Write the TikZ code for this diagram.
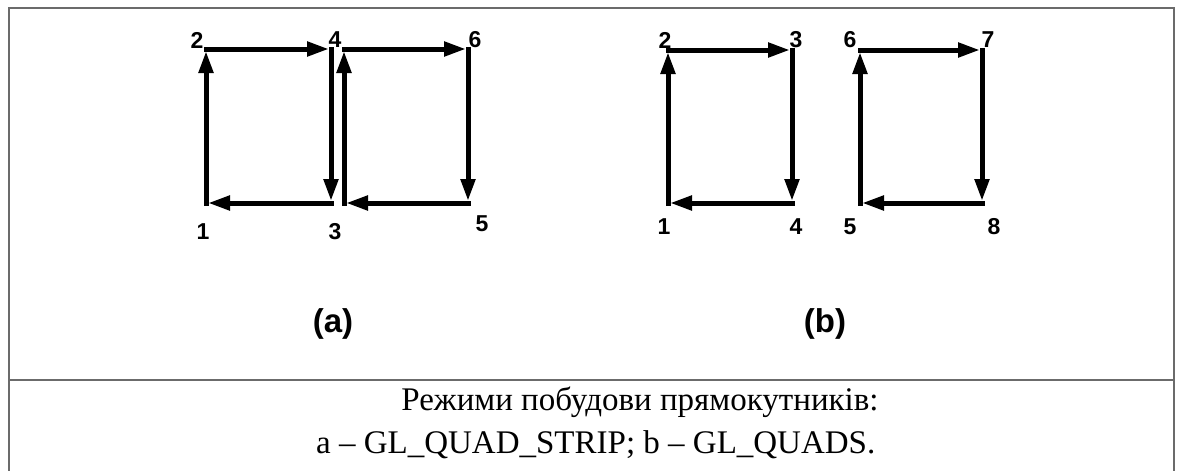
\documentclass[tikz,border=0pt]{standalone}
\usepackage{fontspec}
\setmainfont{Liberation Serif}
\newfontfamily\labelfont{Liberation Sans}
\usetikzlibrary{arrows.meta}
\definecolor{framegray}{HTML}{6B6B6B}
\begin{document}
\begin{tikzpicture}[x=1pt,y=-1pt,
  edge/.style={line width=5pt, -{Triangle[length=22pt,width=14pt]},
               shorten >=2pt, line cap=rect},
  vlabel/.style={font=\labelfont\bfseries\fontsize{23}{23}\selectfont, inner sep=0pt},
  sublabel/.style={font=\labelfont\bfseries\fontsize{33}{33}\selectfont, inner sep=0pt},
  captext/.style={font=\fontsize{33}{33}\selectfont, inner sep=0pt},
  frame/.style={draw=framegray, line width=2pt}]
\useasboundingbox (0,0) rectangle (1179,471);

% table frame
\draw[frame] (8.5,471) -- (8.5,7.5) -- (1173.5,7.5) -- (1173.5,471);
\draw[frame] (8.5,380) -- (1173.5,380);

% (a) quad strip vertices
\coordinate (a1) at (206,203);
\coordinate (a2) at (206,49);
\coordinate (a4) at (331,49);
\coordinate (a3) at (331,203);
\coordinate (a3r) at (344,203);
\coordinate (a4r) at (344,49);
\coordinate (a6) at (468,49);
\coordinate (a5) at (468,203);

\draw[edge] (a1) -- (a2);
\draw[edge] (a2) -- (a4);
\draw[edge] (a4) -- (a3);
\draw[edge] (a3) -- (a1);
\draw[edge] (a3r) -- (a4r);
\draw[edge] (a4r) -- (a6);
\draw[edge] (a6) -- (a5);
\draw[edge] (a5) -- (a3r);

\node[vlabel] (la2) at (197,40) {2};
\node[vlabel] (la4) at (335,40) {4};
\node[vlabel] (la6) at (475,40) {6};
\node[vlabel] (la1) at (203,232) {1};
\node[vlabel] (la3) at (335,232) {3};
\node[vlabel] (la5) at (482,224) {5};

% (b) separate quads
\coordinate (b1) at (668,203);
\coordinate (b2) at (668,50);
\coordinate (b3) at (792,50);
\coordinate (b4) at (792,203);
\coordinate (b5) at (860,203);
\coordinate (b6) at (860,50);
\coordinate (b7) at (982,50);
\coordinate (b8) at (982,203);

\draw[edge] (b1) -- (b2);
\draw[edge] (b2) -- (b3);
\draw[edge] (b3) -- (b4);
\draw[edge] (b4) -- (b1);
\draw[edge] (b5) -- (b6);
\draw[edge] (b6) -- (b7);
\draw[edge] (b7) -- (b8);
\draw[edge] (b8) -- (b5);

\node[vlabel] (lb2) at (665,40) {2};
\node[vlabel] (lb3) at (796,40) {3};
\node[vlabel] (lb6) at (850,40) {6};
\node[vlabel] (lb7) at (988,40) {7};
\node[vlabel] (lb1) at (664,227) {1};
\node[vlabel] (lb4) at (796,227) {4};
\node[vlabel] (lb5) at (850,227) {5};
\node[vlabel] (lb8) at (994,227) {8};

% sub-figure labels
\node[sublabel] (suba) at (333,324) {(a)};
\node[sublabel] (subb) at (825,324) {(b)};

% caption
\node[captext, anchor=base] (cap1) at (640,410) {Режими побудови прямокутників:};
\node[captext, anchor=base west] (cap2) at (316,453) {a – GL\_QUAD\_STRIP; b – GL\_QUADS.};
\end{tikzpicture}
\end{document}
